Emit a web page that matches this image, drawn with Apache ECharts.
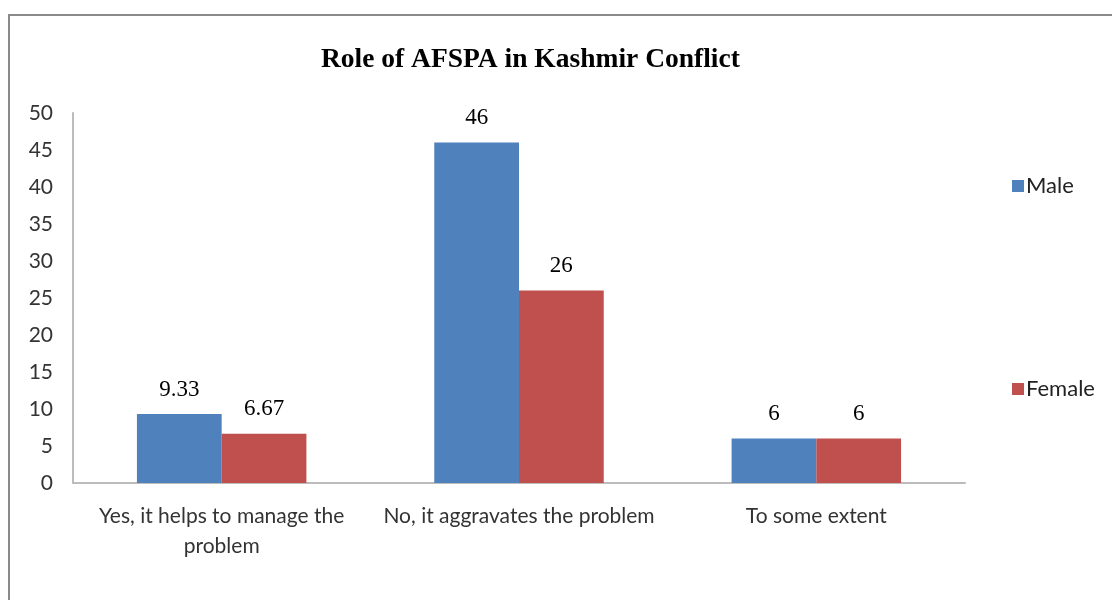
<!DOCTYPE html>
<html><head><meta charset="utf-8">
<script src="https://cdn.jsdelivr.net/npm/echarts@6/dist/echarts.min.js"></script>
<style>html,body{margin:0;padding:0;background:#fff}#c{width:1112px;height:600px}</style>
</head><body><div id="c"></div>
<script>
const categories = ["Yes, it helps to manage the\nproblem", "No, it aggravates the problem", "To some extent"];
const maleValues = [9.33, 46, 6];
const femaleValues = [6.67, 26, 6];
const seriesNames = ["Male", "Female"];
const colors = ["#4F81BD", "#C0504D"];

const chart = echarts.init(document.getElementById('c'));
const labelStyle = {show: true, position: 'top', distance: 13, color: '#000', fontFamily: 'Liberation Serif', fontSize: 23};
chart.setOption({
  animation: false,
  graphic: [{type: 'rect', shape: {x: 9, y: 15, width: 1300, height: 800}, style: {fill: 'none', stroke: '#8a8a8a', lineWidth: 2}}],
  title: {text: 'Role of AFSPA in Kashmir Conflict', left: 316, top: 41,
    textStyle: {fontFamily: 'Liberation Serif', fontWeight: 'bold', fontSize: 27.5, color: '#000'}},
  legend: {orient: 'vertical', left: 1007, top: 170, itemWidth: 12, itemHeight: 12, itemGap: 181,
    icon: 'rect', data: seriesNames,
    textStyle: {fontFamily: 'Lato', fontSize: 22, color: '#222', padding: [0, 0, 0, -3]}},
  grid: {left: 73, right: 147, top: 113, bottom: 117},
  xAxis: {type: 'category', data: categories,
    axisLine: {lineStyle: {color: '#bcbcbc', width: 2}}, axisTick: {show: false},
    axisLabel: {interval: 0, margin: 18, lineHeight: 30, fontFamily: 'Lato', fontSize: 21, color: '#333'}},
  yAxis: {type: 'value', min: 0, max: 50, interval: 5,
    splitLine: {show: false},
    axisLine: {show: true, lineStyle: {color: '#bcbcbc', width: 2}}, axisTick: {show: false},
    axisLabel: {margin: 20, fontFamily: 'Lato', fontSize: 21, color: '#333'}},
  series: [
    {name: seriesNames[0], type: 'bar', data: maleValues, barGap: '0%', barCategoryGap: '43%',
     itemStyle: {color: colors[0]}, label: labelStyle},
    {name: seriesNames[1], type: 'bar', data: femaleValues, barGap: '0%', barCategoryGap: '43%',
     itemStyle: {color: colors[1]}, label: labelStyle}
  ]
});
</script></body></html>
